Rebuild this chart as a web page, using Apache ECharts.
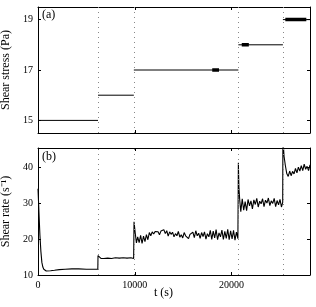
<!DOCTYPE html>
<html><head><meta charset="utf-8">
<script src="https://cdn.jsdelivr.net/npm/echarts@6/dist/echarts.min.js"></script>
<style>html,body{margin:0;padding:0;background:#fff;}#c{width:316px;height:307px;}</style>
</head><body><div id="c"></div>
<script>
// ---- data ----
const timeTicks = [0, 10000, 20000];
const stressTicks = [15, 17, 19];
const rateTicks = [10, 20, 30, 40];
const tEnd = 28100;
const stepTimes = [6200, 9900, 20700, 25300];
const stressLevels = [15, 16, 17, 18, 19];
const fluctStart = [18000, 21050, 25550];
const fluctEnd = [18700, 21780, 27720];
const fluctLevel = [17, 18, 19];

const rateTimes = [
  0,60,120,200,300,400,500,600,700,850,1000,1300,1700,2200,2800,3500,4200,5000,5600,6180,
  6200,6300,6500,6800,7200,7600,8000,8400,8800,9200,9600,9880,
  9920,10050,10170,
  10300,10450,10600,10750,10900,11050,11200,11350,11500,11650,
  11800,11950,12100,12250,12400,12550,12700,12850,13000,13150,
  13300,13450,13600,13750,13900,14050,14200,14350,14500,14650,
  14800,14950,15100,15250,15400,15550,15700,15850,16000,16150,
  16300,16450,16600,16750,16900,17050,17200,17350,17500,17650,
  17800,17950,18100,18250,18400,18550,18700,18850,19000,19150,
  19300,19450,19600,19750,19900,20050,20200,20350,20500,20650,
  20700,20760,20850,20950,21100,21250,21400,21550,21700,21850,
  22000,22150,22300,22450,22600,22750,22900,23050,23200,23350,
  23500,23650,23800,23950,24100,24250,24400,24550,24700,24850,
  25000,25150,25280,
  25300,25420,25550,25700,25850,26000,26150,26300,26450,26600,
  26750,26900,27050,27200,27350,27500,27650,27800,27950,28100
];
const rateValues = [
  34,30,26,21,16.5,13.5,12.2,11.6,11.3,11.1,11.1,11.2,11.3,11.5,11.6,11.7,11.7,11.6,11.6,11.6,
  15.4,14.9,14.6,14.6,14.7,14.6,14.8,14.7,14.8,14.7,14.8,14.6,
  24.8,21.5,18.9,
  20.6,19.0,21.0,18.8,20.8,19.3,21.2,19.8,21.8,20.9,
  22.0,21.4,22.1,21.6,22.0,21.2,22.2,21.7,22.6,21.5,
  22.3,20.8,22.0,21.3,21.9,20.6,21.5,20.9,22.1,20.5,
  21.2,20.3,21.8,20.9,21.4,20.1,21.3,20.8,21.9,20.4,
  22.3,20.9,21.6,20.2,21.8,20.7,22.0,20.0,21.5,20.6,
  22.4,19.9,22.2,20.3,22.6,19.8,21.7,20.6,22.5,19.9,
  22.1,20.2,22.7,19.8,22.3,20.0,22.4,19.7,21.9,20.1,
  41.2,34.0,30.5,27.6,31.2,28.0,30.4,27.9,31.0,29.2,
  30.6,28.4,30.9,29.6,31.3,28.9,30.5,29.8,31.2,29.0,
  30.8,30.0,31.4,29.3,30.6,29.9,31.3,29.0,30.7,29.5,
  31.0,28.9,30.2,
  48,43,40.5,38.2,37.4,38.9,37.6,38.8,38.1,39.6,
  38.4,40.0,38.9,40.4,39.0,40.8,39.4,40.2,39.0,40.6
];

// ---- build ----
const bounds = [0].concat(stepTimes, [tEnd]);
const stressData = [];
stressLevels.forEach((lv, i) => {
  stressData.push([bounds[i], lv], [bounds[i + 1], lv]);
  if (i < stressLevels.length - 1) stressData.push([bounds[i + 1], '-']);
});
const fluctData = [];
fluctLevel.forEach((lv, i) => {
  fluctData.push([fluctStart[i], lv], [fluctEnd[i], lv]);
  if (i < fluctLevel.length - 1) fluctData.push([fluctEnd[i], '-']);
});
const rateData = rateTimes.map((t, i) => [t, rateValues[i]]);

const FONT = 'Liberation Serif';
const tickStyle = { inside: true, length: 3, lineStyle: { color: '#000' } };
const lab = { fontFamily: FONT, fontSize: 10, color: '#000', formatter: v => String(v) };
const markLines = {
  silent: true, symbol: 'none', label: { show: false },
  lineStyle: { color: '#888', type: [1, 4], width: 1 },
  data: stepTimes.map(t => ({ xAxis: t })),
  animation: false
};
function xAx(gi, pos, showLabels) {
  return {
    type: 'value', gridIndex: gi, position: pos, min: 0, max: tEnd,
    axisLine: { show: true, onZero: false, lineStyle: { color: '#000' } },
    axisTick: Object.assign({ customValues: timeTicks }, tickStyle),
    axisLabel: Object.assign({ show: showLabels, margin: 5, customValues: timeTicks }, lab),
    splitLine: { show: false }
  };
}
function yAx(gi, pos, min, max, ticks, showLabels, name) {
  return {
    type: 'value', gridIndex: gi, position: pos, min: min, max: max,
    axisLine: { show: true, onZero: false, lineStyle: { color: '#000' } },
    axisTick: Object.assign({ customValues: ticks }, tickStyle),
    axisLabel: Object.assign({ show: showLabels, margin: 5, customValues: ticks }, lab),
    splitLine: { show: false },
    name: name || '', nameLocation: 'middle', nameGap: 12,
    nameTextStyle: { fontFamily: FONT, fontSize: 12, color: '#000' }
  };
}

const chart = echarts.init(document.getElementById('c'), null, { renderer: 'canvas' });
chart.setOption({
  animation: false,
  backgroundColor: '#fff',
  grid: [
    { left: 38, width: 272, top: 7, height: 126, containLabel: false, outerBoundsMode: 'none' },
    { left: 38, width: 272, top: 148, height: 127, containLabel: false, outerBoundsMode: 'none' }
  ],
  xAxis: [xAx(0, 'bottom', false), xAx(0, 'top', false), xAx(1, 'bottom', true), xAx(1, 'top', false)],
  yAxis: [
    yAx(0, 'left', 14.5, 19.5, stressTicks, true, 'Shear stress (Pa)'),
    yAx(0, 'right', 14.5, 19.5, stressTicks, false),
    yAx(1, 'left', 10, 45.3, rateTicks, true, 'Shear rate (s\u207B\u00B9)'),
    yAx(1, 'right', 10, 45.3, rateTicks, false)
  ],
  graphic: [
    { type: 'text', left: 42, top: 9, style: { text: '(a)', font: '12px "Liberation Serif"', fill: '#000' } },
    { type: 'text', left: 42, top: 151, style: { text: '(b)', font: '12px "Liberation Serif"', fill: '#000' } },
    { type: 'text', left: 154, top: 287, style: { text: 't (s)', font: '12px "Liberation Serif"', fill: '#000' } }
  ],
  series: [
    { type: 'line', xAxisIndex: 0, yAxisIndex: 0, data: stressData, showSymbol: false,
      connectNulls: false, lineStyle: { color: '#000', width: 1 }, markLine: markLines },
    { type: 'line', xAxisIndex: 0, yAxisIndex: 0, data: fluctData, showSymbol: false,
      connectNulls: false, lineStyle: { color: '#000', width: 3.5 } },
    { type: 'line', xAxisIndex: 2, yAxisIndex: 2, data: rateData, showSymbol: false,
      clip: true, lineStyle: { color: '#000', width: 1.1 }, markLine: markLines }
  ]
});
</script></body></html>
